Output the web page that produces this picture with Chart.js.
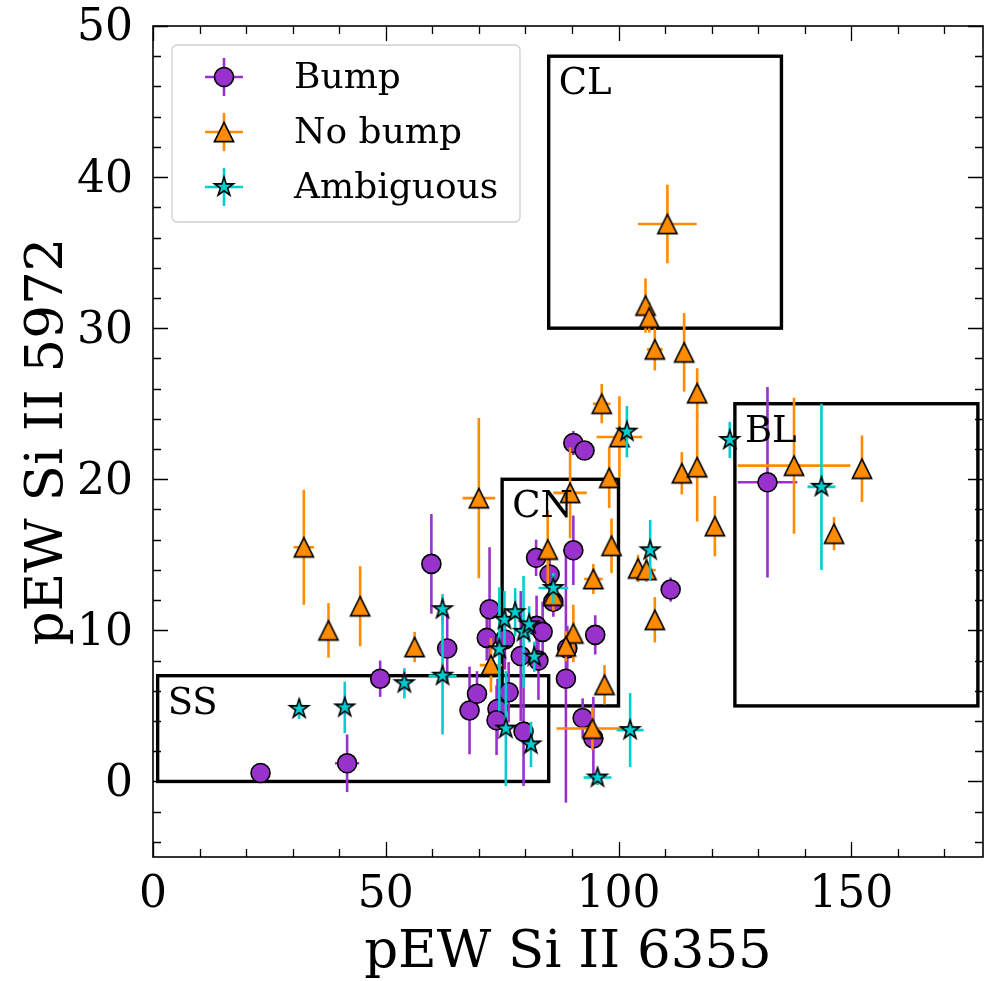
<!DOCTYPE html>
<html>
<head>
<meta charset="utf-8">
<title>pEW Si II 5972 vs 6355</title>
<script src="https://cdn.jsdelivr.net/npm/chart.js@4.4.0/dist/chart.umd.min.js"></script>
<style>
  html, body { margin: 0; padding: 0; background: #fff; overflow: hidden; }
  #chart { display: block; }
</style>
</head>
<body>
<canvas id="chart" width="984" height="981"></canvas>
<script>
// Bump (circles)
const bumpX = [23.1, 41.7, 48.8, 59.8, 63.2, 68.0, 69.6, 72.3, 71.7, 75.6, 76.4, 74.0, 73.8, 79.0, 79.6, 82.4, 83.7, 82.8, 82.3, 85.2, 86.0, 90.3, 90.3, 92.7, 89.0, 95.0, 92.3, 94.6, 111.2, 132.0, 88.7];
const bumpY = [0.56, 1.2, 6.8, 14.4, 8.8, 4.7, 5.8, 11.4, 9.5, 9.4, 5.9, 4.8, 4.05, 8.3, 3.3, 10.3, 9.9, 8.0, 14.8, 13.7, 11.9, 15.3, 22.4, 21.9, 8.8, 9.7, 4.2, 2.85, 12.7, 19.8, 6.8];
const bumpXErr = [0, 2.6, 0, 0, 0, 0, 0, 0, 0, 0, 0, 0, 0, 0, 0, 0, 0, 0, 0, 0, 0, 0, 0, 0, 0, 0, 0, 0, 0, 6.4, 0];
const bumpYErr = [0, 1.9, 1.2, 3.3, 2.3, 2.9, 1.5, 4.1, 1.5, 2.0, 2.0, 2.0, 2.3, 4.3, 3.6, 2.0, 2.0, 2.6, 1.2, 1.5, 1.0, 2.3, 0.8, 0.5, 1.5, 1.3, 1.3, 2.75, 0.8, 6.3, 8.2];

// No bump (triangles)
const noBumpX = [32.4, 37.7, 44.5, 56.2, 70.0, 72.6, 84.8, 86.0, 89.6, 96.4, 100.2, 98.0, 98.5, 94.6, 90.3, 88.7, 97.0, 94.4, 104.2, 106.0, 107.8, 113.6, 116.9, 116.9, 120.7, 110.5, 105.8, 106.6, 107.8, 114.1, 137.7, 152.3, 146.3];
const noBumpY = [15.5, 10.0, 11.6, 8.9, 18.75, 7.7, 15.35, 12.3, 19.1, 25.0, 22.8, 20.1, 15.6, 13.4, 9.8, 8.95, 6.4, 3.5, 14.1, 14.0, 10.7, 20.4, 20.8, 25.7, 16.9, 36.9, 31.5, 30.7, 28.6, 28.4, 20.9, 20.7, 16.4];
const noBumpXErr = [2.2, 0, 0, 0, 3.5, 2.4, 0, 0, 3.6, 1.9, 4.9, 0, 0, 2.0, 0, 0, 0, 7.7, 0, 2.0, 0, 0, 0, 0, 0, 6.3, 0, 0, 1.7, 0, 12.1, 0, 0];
const noBumpYErr = [3.8, 1.8, 2.65, 1.0, 5.3, 1.8, 2.6, 1.0, 3.0, 1.3, 2.7, 2.0, 1.8, 1.0, 1.9, 1.0, 1.3, 1.4, 0.9, 0.8, 1.5, 1.4, 3.6, 1.65, 2.0, 2.6, 1.8, 1.0, 1.4, 2.6, 4.5, 2.2, 1.1];

// Ambiguous (stars)
const ambigX = [31.4, 41.2, 54.0, 62.2, 62.2, 75.5, 77.8, 79.6, 80.8, 74.4, 81.9, 86.0, 75.8, 81.2, 102.5, 95.5, 101.8, 106.8, 123.9, 143.6];
const ambigY = [4.8, 4.9, 6.5, 11.4, 7.0, 10.7, 11.2, 9.9, 10.4, 8.75, 8.25, 12.8, 3.5, 2.45, 3.4, 0.26, 23.15, 15.3, 22.6, 19.5];
const ambigXErr = [0, 0, 0, 0, 3.0, 0, 0, 0, 0, 0, 0, 3.2, 0, 0, 2.9, 3.0, 0, 0, 0, 3.0];
const ambigYErr = [0.66, 1.7, 1.0, 1.0, 3.9, 1.9, 1.6, 3.7, 1.2, 4.1, 1.0, 1.0, 3.8, 1.5, 2.45, 0.5, 1.7, 2.0, 1.2, 5.5];

// Classification boxes
const boxNames = ['SS', 'CN', 'CL', 'BL'];
const boxX0 = [1, 75, 85, 125];
const boxX1 = [85, 100, 135, 177.2];
const boxY0 = [0, 5, 30, 5];
const boxY1 = [7, 20, 48, 25];

const seriesNames = ['Bump', 'No bump', 'Ambiguous'];
const xTitle = 'pEW Si II 6355';
const yTitle = 'pEW Si II 5972';

const PURPLE = '#9932CC';
const ORANGE = '#FF8C00';
const CYAN = '#00CED1';
const FONT = '"DejaVu Serif", "Liberation Serif", serif';

function makeMarker(shape, fill) {
    const c = document.createElement('canvas');
    c.width = 26;
    c.height = 26;
    const g = c.getContext('2d');
    g.translate(13, 13);
    g.beginPath();
    if (shape === 'triangle') {
        const h = 9.6;
        g.moveTo(0, -h);
        g.lineTo(-h, h);
        g.lineTo(h, h);
        g.closePath();
    } else {
        const r = 10, ri = r * 0.382;
        for (let k = 0; k < 10; k++) {
            const rr = k % 2 === 0 ? r : ri;
            const a = -Math.PI / 2 + k * Math.PI / 5;
            if (k === 0) g.moveTo(rr * Math.cos(a), rr * Math.sin(a));
            else g.lineTo(rr * Math.cos(a), rr * Math.sin(a));
        }
        g.closePath();
    }
    g.fillStyle = fill;
    g.fill();
    g.lineWidth = 1.6;
    g.lineJoin = 'miter';
    g.strokeStyle = '#000';
    g.stroke();
    return c;
}

const triangleImg = makeMarker('triangle', ORANGE);
const starImg = makeMarker('star', CYAN);

function toPoints(xs, ys) {
    return xs.map((x, i) => ({ x: x, y: ys[i] }));
}

// error bars, drawn just before each dataset's markers
const errorBarPlugin = {
    id: 'errorBars',
    beforeDatasetDraw(chart, args) {
        const ds = chart.data.datasets[args.index];
        if (!ds.xErr) return;
        const { ctx, chartArea: a, scales: { x, y } } = chart;
        ctx.save();
        ctx.beginPath();
        ctx.rect(a.left, a.top, a.right - a.left, a.bottom - a.top);
        ctx.clip();
        ctx.strokeStyle = ds.errColor;
        ctx.lineWidth = 2.6;
        ds.data.forEach((p, i) => {
            const px = x.getPixelForValue(p.x);
            const py = y.getPixelForValue(p.y);
            ctx.beginPath();
            if (ds.yErr[i] > 0) {
                ctx.moveTo(px, y.getPixelForValue(p.y - ds.yErr[i]));
                ctx.lineTo(px, y.getPixelForValue(p.y + ds.yErr[i]));
            }
            if (ds.xErr[i] > 0) {
                ctx.moveTo(x.getPixelForValue(p.x - ds.xErr[i]), py);
                ctx.lineTo(x.getPixelForValue(p.x + ds.xErr[i]), py);
            }
            ctx.stroke();
        });
        ctx.restore();
    }
};

// boxes under the data, labels above it
const boxPlugin = {
    id: 'boxes',
    beforeDatasetsDraw(chart) {
        const { ctx, scales: { x, y } } = chart;
        ctx.save();
        ctx.strokeStyle = '#000';
        ctx.lineWidth = 3.4;
        ctx.lineJoin = 'miter';
        boxNames.forEach((name, i) => {
            const l = x.getPixelForValue(boxX0[i]);
            const r = x.getPixelForValue(boxX1[i]);
            const t = y.getPixelForValue(boxY1[i]);
            const b = y.getPixelForValue(boxY0[i]);
            ctx.strokeRect(l, t, r - l, b - t);
        });
        ctx.restore();
    },
    afterDatasetsDraw(chart) {
        const { ctx, scales: { x, y } } = chart;
        ctx.save();
        ctx.fillStyle = '#000';
        ctx.font = '37px ' + FONT;
        ctx.textBaseline = 'alphabetic';
        ctx.textAlign = 'left';
        boxNames.forEach((name, i) => {
            ctx.fillText(name, x.getPixelForValue(boxX0[i]) + 10, y.getPixelForValue(boxY1[i]) + 38);
        });
        ctx.restore();
    }
};

// frame, inward ticks on all sides, legend
const framePlugin = {
    id: 'frame',
    afterDraw(chart) {
        const { ctx, chartArea: a, scales: { x, y } } = chart;
        ctx.save();
        ctx.strokeStyle = '#000';
        ctx.lineWidth = 1.3;
        ctx.beginPath();
        for (let k = Math.ceil(x.min / 10); k * 10 <= x.max; k++) {
            const v = k * 10;
            const len = v % 50 === 0 ? 15 : 8;
            const px = Math.round(x.getPixelForValue(v)) + 0.5;
            ctx.moveTo(px, a.bottom); ctx.lineTo(px, a.bottom - len);
            ctx.moveTo(px, a.top); ctx.lineTo(px, a.top + len);
        }
        for (let k = Math.ceil(y.min / 2); k * 2 <= y.max; k++) {
            const v = k * 2;
            const len = v % 10 === 0 ? 15 : 8;
            const py = Math.round(y.getPixelForValue(v)) + 0.5;
            ctx.moveTo(a.left, py); ctx.lineTo(a.left + len, py);
            ctx.moveTo(a.right, py); ctx.lineTo(a.right - len, py);
        }
        ctx.stroke();
        ctx.lineWidth = 1.6;
        ctx.strokeRect(a.left, a.top, a.right - a.left, a.bottom - a.top);

        // legend
        const lx = 172, ly = 45, lw = 348, lh = 177;
        ctx.beginPath();
        ctx.roundRect(lx, ly, lw, lh, 5);
        ctx.fillStyle = 'rgba(255,255,255,0.85)';
        ctx.fill();
        ctx.strokeStyle = '#d0d0d0';
        ctx.lineWidth = 1.3;
        ctx.stroke();
        const rows = [77, 132, 187];
        const colors = [PURPLE, ORANGE, CYAN];
        const mx = 224;
        rows.forEach((ry, i) => {
            ctx.strokeStyle = colors[i];
            ctx.lineWidth = 2.6;
            ctx.beginPath();
            ctx.moveTo(mx - 19, ry); ctx.lineTo(mx + 19, ry);
            ctx.moveTo(mx, ry - 19); ctx.lineTo(mx, ry + 19);
            ctx.stroke();
            if (i === 0) {
                ctx.beginPath();
                ctx.arc(mx, ry, 9.5, 0, Math.PI * 2);
                ctx.fillStyle = PURPLE;
                ctx.fill();
                ctx.lineWidth = 1.6;
                ctx.strokeStyle = '#000';
                ctx.stroke();
            } else {
                const img = i === 1 ? triangleImg : starImg;
                ctx.drawImage(img, mx - img.width / 2, ry - img.height / 2);
            }
            ctx.fillStyle = '#000';
            ctx.font = '36px ' + FONT;
            ctx.textBaseline = 'middle';
            ctx.textAlign = 'left';
            ctx.fillText(seriesNames[i], 294, ry + 2);
        });
        ctx.restore();
    }
};

function noEdgePadding(scale) {
    scale.paddingTop = 0;
    scale.paddingBottom = 0;
    scale.paddingLeft = 0;
    scale.paddingRight = 0;
}

new Chart(document.getElementById('chart'), {
    type: 'scatter',
    data: {
        datasets: [
            {
                label: seriesNames[0],
                data: toPoints(bumpX, bumpY),
                xErr: bumpXErr,
                yErr: bumpYErr,
                errColor: PURPLE,
                pointStyle: 'circle',
                pointRadius: 9.5,
                pointHoverRadius: 9.5,
                backgroundColor: PURPLE,
                borderColor: '#000',
                borderWidth: 1.6,
                order: 3
            },
            {
                label: seriesNames[1],
                data: toPoints(noBumpX, noBumpY),
                xErr: noBumpXErr,
                yErr: noBumpYErr,
                errColor: ORANGE,
                pointStyle: triangleImg,
                pointRadius: 10,
                order: 2
            },
            {
                label: seriesNames[2],
                data: toPoints(ambigX, ambigY),
                xErr: ambigXErr,
                yErr: ambigYErr,
                errColor: CYAN,
                pointStyle: starImg,
                pointRadius: 10,
                order: 1
            }
        ]
    },
    options: {
        responsive: false,
        devicePixelRatio: 1,
        animation: false,
        events: [],
        layout: {
            autoPadding: false,
            padding: { top: 26, right: 1, left: 0, bottom: 0 }
        },
        plugins: {
            legend: { display: false },
            tooltip: { enabled: false }
        },
        scales: {
            x: {
                type: 'linear',
                min: 0,
                max: 178.3,
                grid: { display: false, drawTicks: false },
                border: { display: false },
                ticks: {
                    stepSize: 50,
                    includeBounds: false,
                    maxRotation: 0,
                    padding: 17,
                    color: '#000',
                    font: { family: FONT, size: 44, lineHeight: 1 }
                },
                title: {
                    display: true,
                    text: xTitle,
                    color: '#000',
                    padding: { top: 0, bottom: 1 },
                    font: { family: FONT, size: 53, lineHeight: 1 }
                },
                afterFit(scale) {
                    scale.height = 124;
                    noEdgePadding(scale);
                }
            },
            y: {
                type: 'linear',
                min: -5,
                max: 50,
                grid: { display: false, drawTicks: false },
                border: { display: false },
                ticks: {
                    stepSize: 10,
                    includeBounds: false,
                    padding: 20,
                    labelOffset: 3,
                    color: '#000',
                    font: { family: FONT, size: 44, lineHeight: 1 }
                },
                title: {
                    display: true,
                    text: yTitle,
                    color: '#000',
                    padding: { top: 22, bottom: 0 },
                    font: { family: FONT, size: 53, lineHeight: 1 }
                },
                afterFit(scale) {
                    scale.width = 153;
                    noEdgePadding(scale);
                }
            }
        }
    },
    plugins: [errorBarPlugin, boxPlugin, framePlugin]
});
</script>
</body>
</html>
